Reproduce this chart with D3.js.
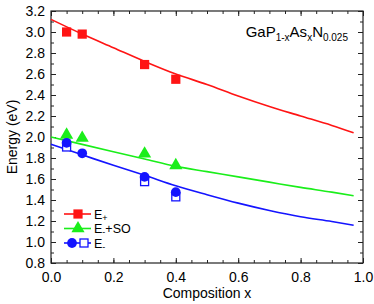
<!DOCTYPE html>
<html>
<head>
<meta charset="utf-8">
<script src="https://cdn.jsdelivr.net/npm/d3@7"></script>
<style>
  body { margin: 0; background: #fff; }
  text { font-family: "Liberation Sans", Arial, sans-serif; fill: #000; }
</style>
</head>
<body>
<div id="chart"></div>
<script>
var svgWidth = 374;
var svgHeight = 304;

var margin = { top: 11, right: 11, left: 51, bottom: 41 };
var width = svgWidth - margin.left - margin.right;
var height = svgHeight - margin.top - margin.bottom;

// measured points
var compX = [0.05, 0.1, 0.3, 0.4];
var ePlus = [3.00, 2.98, 2.69, 2.55];
var eMinusSO = [2.02, 1.99, 1.84, 1.73];
var eMinus = [1.945, 1.845, 1.62, 1.475];
var eMinusOpenX = [0.05, 0.3, 0.4];
var eMinusOpen = [1.905, 1.575, 1.43];

// fitted curves
var curveX = [0, 0.1, 0.2, 0.3, 0.4, 0.5, 0.6, 0.7, 0.8, 0.9, 0.97];
var curvePlus = [3.12, 2.98, 2.85, 2.72, 2.60, 2.50, 2.39, 2.29, 2.20, 2.11, 2.04];
var curveMinusSO = [2.00, 1.93, 1.86, 1.79, 1.72, 1.67, 1.62, 1.57, 1.52, 1.475, 1.44];
var curveMinus = [1.93, 1.83, 1.73, 1.635, 1.535, 1.45, 1.37, 1.30, 1.24, 1.195, 1.16];

var xTicks = [0.0, 0.2, 0.4, 0.6, 0.8, 1.0];
var yTicks = [0.8, 1.0, 1.2, 1.4, 1.6, 1.8, 2.0, 2.2, 2.4, 2.6, 2.8, 3.0, 3.2];

var red = "#ff1414", green = "#1aee1a", blue = "#1414ff";

var svg = d3.select("#chart")
  .append("svg")
  .attr("width", svgWidth)
  .attr("height", svgHeight);

var chartGroup = svg.append("g")
  .attr("transform", `translate(${margin.left}, ${margin.top})`);

var x = d3.scaleLinear().domain([0, 1]).range([0, width]);
var y = d3.scaleLinear().domain([0.8, 3.2]).range([height, 0]);

// ticks (inward, on all four sides)
function tickAxis(axis, tr) {
  var g = chartGroup.append("g").attr("transform", tr).call(axis);
  g.select(".domain").remove();
  g.selectAll("line").attr("stroke", "#222");
  return g;
}
var xMinor = d3.range(0, 1.0001, 0.05);
var yMinor = d3.range(0.8, 3.2001, 0.1);
tickAxis(d3.axisBottom(x).tickValues(xMinor).tickSize(-3).tickFormat(""), `translate(0, ${height})`);
tickAxis(d3.axisTop(x).tickValues(xMinor).tickSize(-3).tickFormat(""), "translate(0,0)");
tickAxis(d3.axisLeft(y).tickValues(yMinor).tickSize(-3).tickFormat(""), "translate(0,0)");
tickAxis(d3.axisRight(y).tickValues(yMinor).tickSize(-3).tickFormat(""), `translate(${width},0)`);
tickAxis(d3.axisTop(x).tickValues(xTicks).tickSize(-5).tickFormat(""), "translate(0,0)");
tickAxis(d3.axisRight(y).tickValues(yTicks).tickSize(-5).tickFormat(""), `translate(${width},0)`);

var bottomAxis = tickAxis(d3.axisBottom(x).tickValues(xTicks).tickSize(-5).tickPadding(9).tickFormat(d3.format(".1f")),
  `translate(0, ${height})`);
bottomAxis.selectAll("text").attr("font-size", "14px").attr("dy", "0.71em");
var leftAxis = tickAxis(d3.axisLeft(y).tickValues(yTicks).tickSize(-5).tickPadding(6).tickFormat(d3.format(".1f")),
  "translate(0,0)");
leftAxis.selectAll("text").attr("font-size", "14px");
svg.selectAll(".tick text").style("font-family", "'Liberation Sans', Arial, sans-serif").attr("fill", "#000");

chartGroup.append("rect")
  .attr("width", width).attr("height", height)
  .attr("fill", "none").attr("stroke", "#222").attr("stroke-width", 1.2);

// curves
var line = d3.line().curve(d3.curveMonotoneX).x(d => x(d[0])).y(d => y(d[1]));
[[curvePlus, red], [curveMinusSO, green], [curveMinus, blue]].forEach(c => {
  chartGroup.append("path")
    .datum(curveX.map((v, i) => [v, c[0][i]]))
    .attr("d", line)
    .attr("fill", "none")
    .attr("stroke", c[1])
    .attr("stroke-width", 1.6);
});

// markers
var sq = d3.symbol().type(d3.symbolSquare).size(85);
var tri = d3.symbol().type(d3.symbolTriangle).size(75);
var circ = d3.symbol().type(d3.symbolCircle).size(75);

chartGroup.selectAll(".plus").data(compX).enter().append("path")
  .attr("d", sq).attr("fill", red)
  .attr("transform", (d, i) => `translate(${x(d)},${y(ePlus[i])})`);
chartGroup.selectAll(".so").data(compX).enter().append("path")
  .attr("d", tri).attr("fill", green)
  .attr("transform", (d, i) => `translate(${x(d)},${y(eMinusSO[i])})`);
chartGroup.selectAll(".open").data(eMinusOpenX).enter().append("rect")
  .attr("x", (d) => x(d) - 4).attr("y", (d, i) => y(eMinusOpen[i]) - 4)
  .attr("width", 8).attr("height", 8)
  .attr("fill", "#fff").attr("stroke", blue).attr("stroke-width", 1.3);
chartGroup.selectAll(".minus").data(compX).enter().append("path")
  .attr("d", circ).attr("fill", blue)
  .attr("transform", (d, i) => `translate(${x(d)},${y(eMinus[i])})`);

// legend
var legend = svg.append("g").attr("transform", "translate(64, 214)");
var rows = [
  { c: red, sub: "+", rest: "" },
  { c: green, sub: "-", rest: "+SO" },
  { c: blue, sub: "-", rest: "" }
];
rows.forEach((r, i) => {
  var g = legend.append("g").attr("transform", `translate(0, ${i * 14.5})`);
  g.append("line").attr("x1", 0).attr("x2", 27).attr("stroke", r.c).attr("stroke-width", 1.6);
  if (i === 0) g.append("path").attr("d", sq).attr("fill", r.c).attr("transform", "translate(14,0)");
  if (i === 1) g.append("path").attr("d", tri).attr("fill", r.c).attr("transform", "translate(14,0)");
  if (i === 2) {
    g.append("path").attr("d", circ).attr("fill", r.c).attr("transform", "translate(8,0)");
    g.append("rect").attr("x", 16).attr("y", -4).attr("width", 8).attr("height", 8)
      .attr("fill", "#fff").attr("stroke", r.c).attr("stroke-width", 1.3);
  }
  var t = g.append("text").attr("x", 30).attr("y", 4.5).attr("font-size", "12.5px");
  t.append("tspan").text("E");
  t.append("tspan").attr("font-size", "9px").attr("dy", 2).text(r.sub);
  if (r.rest) t.append("tspan").attr("dy", -2).text(r.rest);
});

// title
var title = svg.append("text").attr("x", 348).attr("y", 37).attr("text-anchor", "end").attr("font-size", "15px");
title.append("tspan").text("GaP");
title.append("tspan").attr("font-size", "10px").attr("dy", 4).text("1-x");
title.append("tspan").attr("dy", -4).text("As");
title.append("tspan").attr("font-size", "10px").attr("dy", 4).text("x");
title.append("tspan").attr("dy", -4).text("N");
title.append("tspan").attr("font-size", "10px").attr("dy", 4).text("0.025");

// axis labels
svg.append("text")
  .attr("x", margin.left + width / 2).attr("y", 298)
  .attr("text-anchor", "middle").attr("font-size", "14px")
  .text("Composition x");
svg.append("text")
  .attr("transform", "rotate(-90)")
  .attr("x", -(margin.top + height / 2)).attr("y", 17)
  .attr("text-anchor", "middle").attr("font-size", "14px")
  .text("Energy (eV)");
</script>
</body>
</html>
